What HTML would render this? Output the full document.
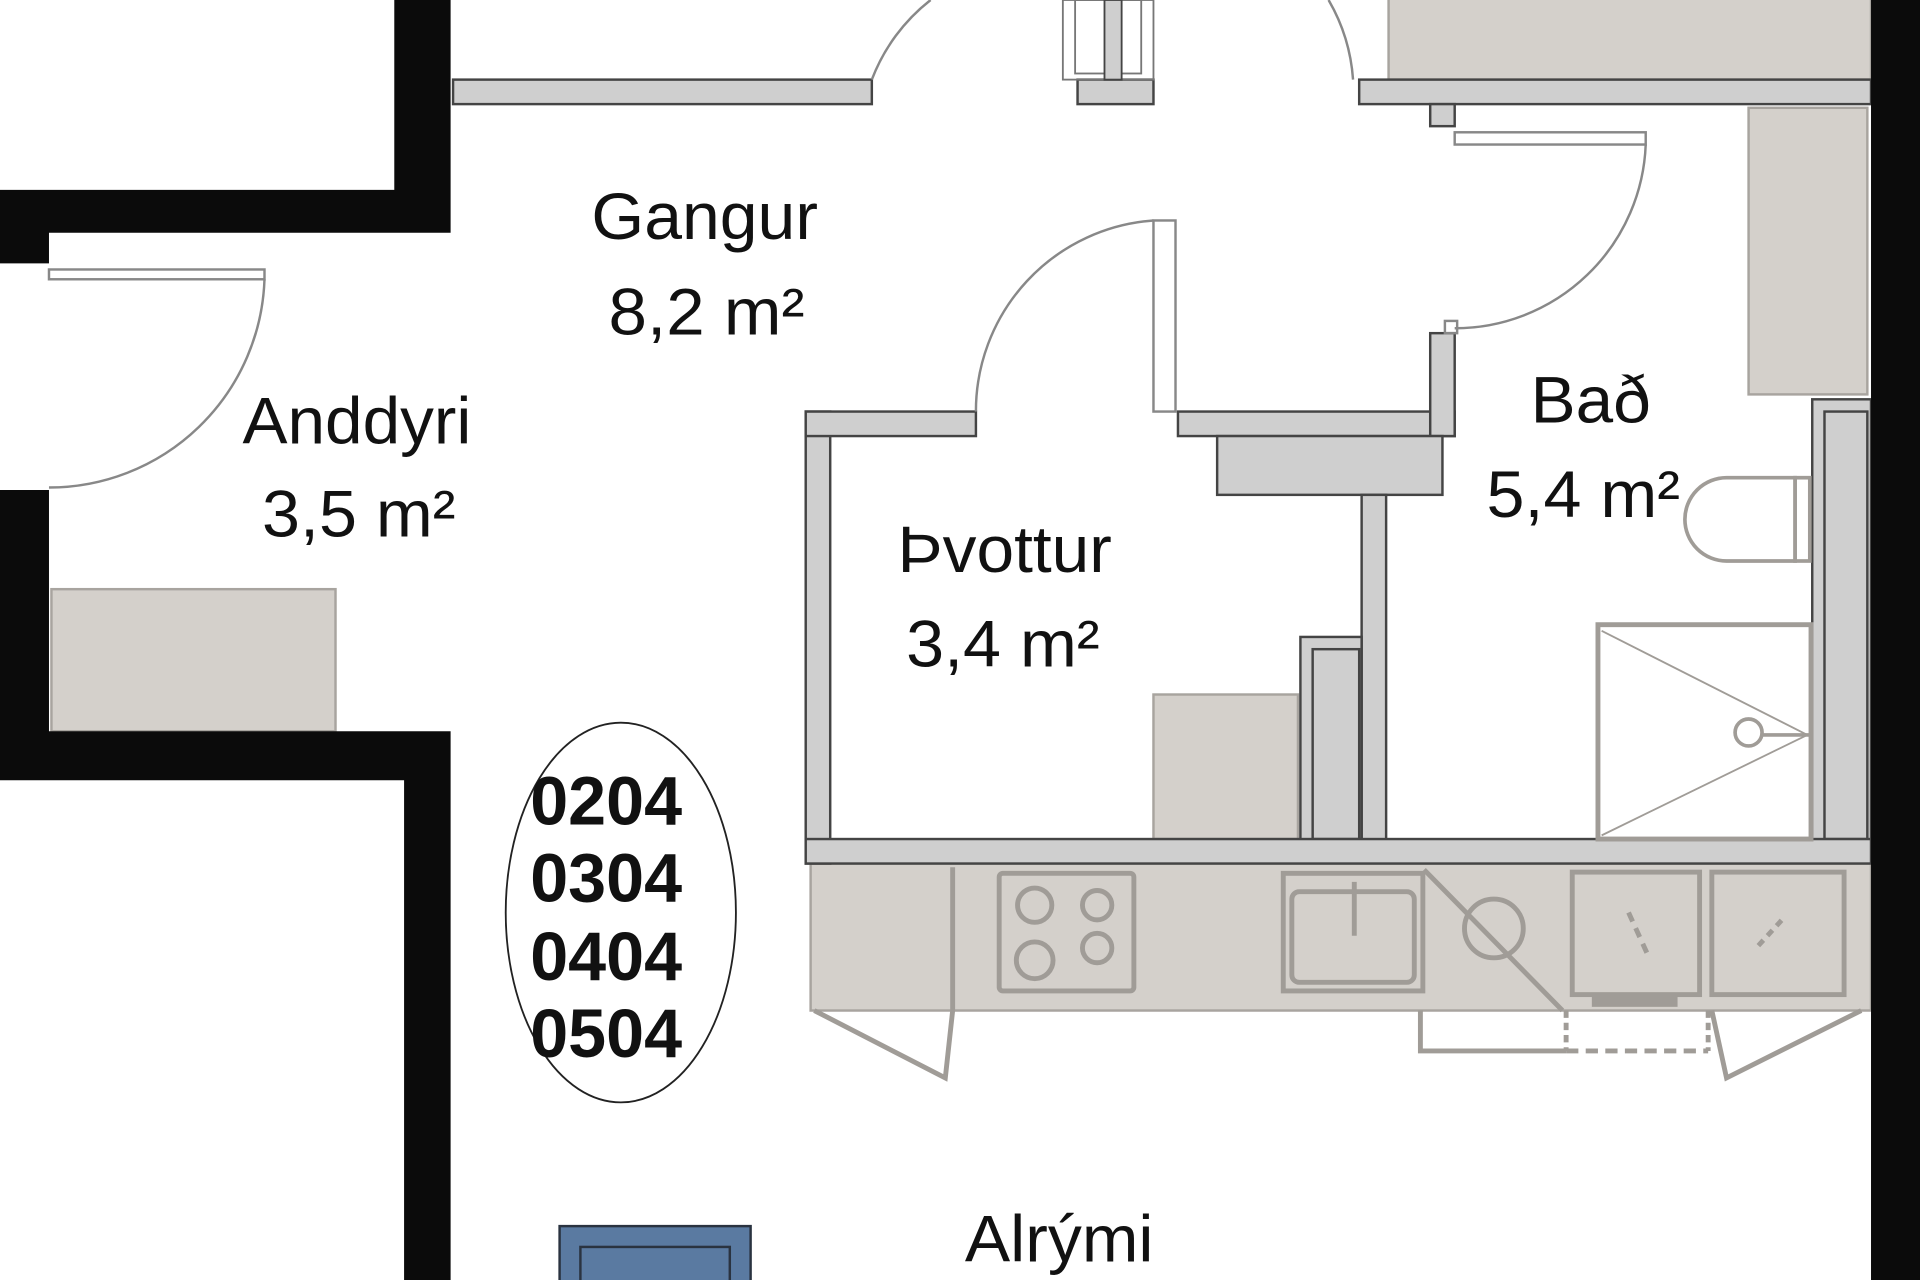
<!DOCTYPE html>
<html><head><meta charset="utf-8"><style>
html,body{margin:0;padding:0;background:#fff;width:1920px;height:1280px;overflow:hidden}
svg{display:block}
text{font-family:"Liberation Sans Narrow","Liberation Sans",sans-serif;fill:#111}
</style></head><body>
<svg width="1920" height="1280" viewBox="0 0 1568 1045" preserveAspectRatio="none" xmlns="http://www.w3.org/2000/svg">
<rect width="1568" height="1045" fill="#fff"/>
<!-- beige cabinets -->
<g fill="#d4d0cb" stroke="#a8a49f" stroke-width="2">
<rect x="1134" y="-2" width="394" height="67"/>
<rect x="1428" y="88" width="97" height="234"/>
<rect x="42" y="481" width="232" height="116"/>
<rect x="942" y="567" width="118" height="118"/>
<rect x="662" y="705" width="866" height="120"/>
</g>
<!-- kitchen details -->
<g fill="none" stroke="#a09c97" stroke-width="4">
<line x1="778" y1="708" x2="778" y2="825"/>
<rect x="816" y="713" width="110" height="96" rx="3"/>
<circle cx="845" cy="739" r="14"/><circle cx="896" cy="739" r="12"/>
<circle cx="845" cy="784" r="15"/><circle cx="896" cy="774" r="12"/>
<rect x="1048" y="713" width="114" height="96"/>
<rect x="1055" y="728" width="100" height="74" rx="6"/>
<line x1="1106" y1="720" x2="1106" y2="764"/>
<polyline points="1163,710 1276,825"/>
<circle cx="1220" cy="758" r="24"/>
<rect x="1284" y="712" width="104" height="100"/>
<rect x="1398" y="712" width="108" height="100"/>
<line x1="1330" y1="745" x2="1345" y2="778" stroke-dasharray="8 6"/>
<line x1="1436" y1="772" x2="1458" y2="748" stroke-dasharray="6 5"/>
<polyline points="1160,825 1160,858 1279,858"/>
<polyline points="1279,858 1395,858" stroke-dasharray="10 6"/>
<line x1="1279" y1="825" x2="1279" y2="858" stroke-dasharray="6 4"/>
<line x1="1395" y1="825" x2="1395" y2="858" stroke-dasharray="6 4"/>
<polyline points="665,825 772,880 778,825"/>
<polyline points="1398,825 1410,880 1520,825"/>
<rect x="1300" y="812" width="70" height="10" fill="#a09c97" stroke="none"/>
</g>
<!-- gray walls -->
<g fill="#cfcfcf" stroke="#444" stroke-width="2">
<rect x="370" y="65" width="342" height="20"/>
<rect x="880" y="65" width="62" height="20"/>
<rect x="1110" y="65" width="418" height="20"/>
<rect x="1168" y="85" width="20" height="18"/>
<rect x="658" y="336" width="20" height="369"/>
<rect x="658" y="336" width="139" height="20"/>
<rect x="962" y="336" width="226" height="20"/>
<rect x="1168" y="272" width="20" height="84"/>
<rect x="994" y="356" width="184" height="48"/>
<rect x="1112" y="404" width="20" height="286"/>
<rect x="1062" y="520" width="50" height="170"/>
<rect x="1072" y="530" width="38" height="155"/>
<rect x="1480" y="326" width="48" height="364"/>
<rect x="1490" y="336" width="35" height="349"/>
<rect x="658" y="685" width="870" height="20"/>
</g>
<!-- top window stub -->
<g fill="none" stroke="#777" stroke-width="1.5">
<rect x="868" y="0" width="74" height="65"/>
<rect x="878" y="0" width="54" height="60"/>
<rect x="902" y="0" width="14" height="65" fill="#cfcfcf" stroke="#444"/>
</g>
<!-- black walls -->
<g fill="#0b0b0b">
<polygon points="322,0 368,0 368,190 40,190 40,215 0,215 0,155 322,155"/>
<polygon points="0,400 40,400 40,597 368,597 368,1045 330,1045 330,637 0,637"/>
<rect x="1528" y="0" width="40" height="1045"/>
</g>
<!-- doors -->
<g fill="none" stroke="#888" stroke-width="2">
<rect x="40" y="220" width="176" height="8"/>
<path d="M216,228 A176,176 0 0 1 40,398"/>
<rect x="942" y="180" width="18" height="156"/>
<path d="M942,180 A156,156 0 0 0 797,336"/>
<rect x="1188" y="108" width="156" height="10"/>
<path d="M1344,118 A156,156 0 0 1 1188,268"/>
<path d="M712,65 A150,150 0 0 1 760,0"/>
<path d="M1105,65 A150,150 0 0 0 1085,0"/>
<rect x="1180" y="262" width="10" height="10"/>
</g>
<!-- bath fixtures -->
<g fill="none" stroke="#a09c97" stroke-width="3">
<path d="M1466,390 L1410,390 A34,34 0 0 0 1410,458 L1466,458 Z"/>
<rect x="1466" y="390" width="12" height="68"/>
<rect x="1305" y="510" width="174" height="175" stroke-width="4"/>
<line x1="1308" y1="515" x2="1476" y2="600" stroke-width="1.5"/>
<line x1="1308" y1="682" x2="1476" y2="600" stroke-width="1.5"/>
<circle cx="1428" cy="598" r="11"/>
<line x1="1439" y1="600" x2="1478" y2="600"/>
</g>
<!-- oval -->
<ellipse cx="507" cy="745" rx="94" ry="155" fill="none" stroke="#222" stroke-width="1.5"/>
<g font-weight="bold" font-size="56">
<text x="433" y="673" textLength="124" lengthAdjust="spacingAndGlyphs">0204</text>
<text x="433" y="736" textLength="124" lengthAdjust="spacingAndGlyphs">0304</text>
<text x="433" y="800" textLength="124" lengthAdjust="spacingAndGlyphs">0404</text>
<text x="433" y="863" textLength="124" lengthAdjust="spacingAndGlyphs">0504</text>
</g>
<!-- room labels -->
<g font-size="54">
<text x="483" y="195" textLength="185" lengthAdjust="spacingAndGlyphs">Gangur</text>
<text x="497" y="273" textLength="160" lengthAdjust="spacingAndGlyphs">8,2 m²</text>
<text x="198" y="362" textLength="187" lengthAdjust="spacingAndGlyphs">Anddyri</text>
<text x="214" y="438" textLength="158" lengthAdjust="spacingAndGlyphs">3,5 m²</text>
<text x="733" y="467" textLength="175" lengthAdjust="spacingAndGlyphs">Þvottur</text>
<text x="740" y="544" textLength="158" lengthAdjust="spacingAndGlyphs">3,4 m²</text>
<text x="1250" y="345" textLength="98" lengthAdjust="spacingAndGlyphs">Bað</text>
<text x="1214" y="422" textLength="158" lengthAdjust="spacingAndGlyphs">5,4 m²</text>
<text x="788" y="1030" textLength="154" lengthAdjust="spacingAndGlyphs">Alrými</text>
</g>
<!-- blue box -->
<rect x="457" y="1001" width="156" height="50" fill="#5a7aa1" stroke="#2a3340" stroke-width="2"/>
<rect x="474" y="1018" width="122" height="40" fill="none" stroke="#2a3340" stroke-width="2"/>
</svg>
</body></html>
